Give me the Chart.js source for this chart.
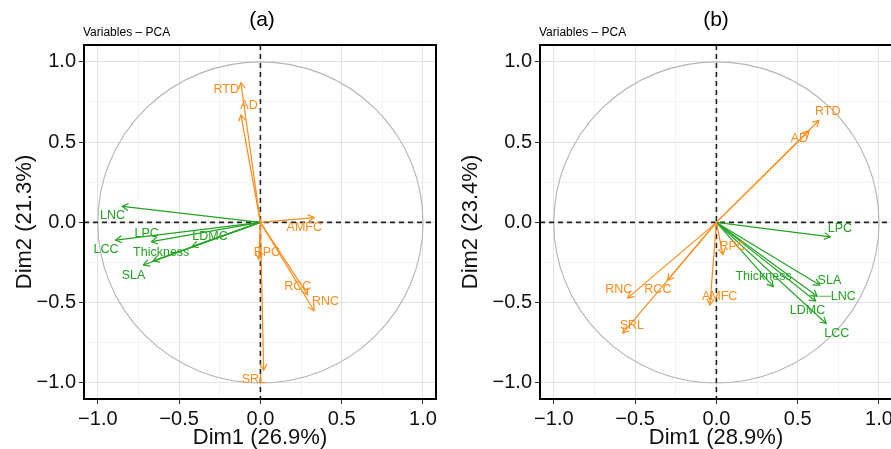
<!DOCTYPE html>
<html>
<head>
<meta charset="utf-8">
<script src="https://cdn.jsdelivr.net/npm/chart.js@4.4.1/dist/chart.umd.min.js"></script>
<style>
  body { margin: 0; background: #fff; overflow: hidden; width: 891px; height: 449px; position: relative; font-family: "Liberation Sans", Arial, sans-serif; }
  canvas { position: absolute; top: 0; }
  .panel { position: absolute; font-size: 21px; color: #000; transform: translateX(-50%); }
  .sub { position: absolute; font-size: 12px; color: #000; }
</style>
</head>
<body>
<canvas id="chartA" width="445" height="449" style="left:0"></canvas>
<canvas id="chartB" width="455" height="449" style="left:446px"></canvas>
<div class="panel" style="left:262px; top:7px">(a)</div>
<div class="panel" style="left:716px; top:7px">(b)</div>
<div class="sub" style="left:83px; top:25px">Variables – PCA</div>
<div class="sub" style="left:539px; top:25px">Variables – PCA</div>
<script>
// variable coordinates
const varsA = ['RTD', 'AD', 'AMFC', 'RPC', 'RCC', 'RNC', 'SRL', 'LNC', 'LCC', 'LPC', 'LDMC', 'Thickness', 'SLA'];
const groupA = ['root', 'root', 'root', 'root', 'root', 'root', 'root', 'leaf', 'leaf', 'leaf', 'leaf', 'leaf', 'leaf'];
const dim1A = [-0.12, -0.12, 0.33, -0.01, 0.29, 0.33, 0.02, -0.85, -0.89, -0.67, -0.42, -0.66, -0.72];
const dim2A = [0.87, 0.67, 0.03, -0.23, -0.45, -0.55, -0.92, 0.10, -0.11, -0.12, -0.15, -0.24, -0.265];
// where each text label sits (data units)
const labXA = [-0.21, -0.07, 0.27, 0.04, 0.23, 0.40, -0.04, -0.91, -0.95, -0.70, -0.31, -0.61, -0.78];
const labYA = [0.83, 0.73, -0.03, -0.19, -0.40, -0.49, -0.98, 0.04, -0.17, -0.07, -0.09, -0.19, -0.33];

const varsB = ['RTD', 'AD', 'RPC', 'AMFC', 'RNC', 'RCC', 'SRL', 'LPC', 'SLA', 'LNC', 'LDMC', 'LCC', 'Thickness'];
const groupB = ['root', 'root', 'root', 'root', 'root', 'root', 'root', 'leaf', 'leaf', 'leaf', 'leaf', 'leaf', 'leaf'];
const dim1B = [0.63, 0.57, 0.04, -0.04, -0.545, -0.30, -0.575, 0.70, 0.635, 0.62, 0.61, 0.675, 0.35];
const dim2B = [0.635, 0.57, -0.20, -0.515, -0.47, -0.36, -0.69, -0.09, -0.39, -0.46, -0.49, -0.63, -0.40];
const labXB = [0.685, 0.51, 0.10, 0.02, -0.60, -0.36, -0.52, 0.76, 0.695, 0.78, 0.56, 0.74, 0.29];
const labYB = [0.69, 0.52, -0.15, -0.46, -0.42, -0.42, -0.64, -0.04, -0.36, -0.46, -0.55, -0.69, -0.34];

const tickVals = [-1, -0.75, -0.5, -0.25, 0, 0.25, 0.5, 0.75, 1];
const colors = { root: '#ff8c1a', leaf: '#22a322' };

const isMajor = v => Math.abs(v * 2 - Math.round(v * 2)) < 1e-6;
const fmt = v => isMajor(v) ? v.toFixed(1).replace('-', '\u2212') : '';

// circle, dashed zero lines, arrowheads, labels, frame
const pcaDecor = {
  id: 'pcaDecor',
  beforeDatasetsDraw(chart) {
    const { ctx, chartArea: a, scales: { x, y } } = chart;
    ctx.save();
    ctx.beginPath();
    ctx.rect(a.left, a.top, a.width, a.height);
    ctx.clip();
    const cx = x.getPixelForValue(0), cy = y.getPixelForValue(0);
    const rx = x.getPixelForValue(1) - cx, ry = cy - y.getPixelForValue(1);
    ctx.strokeStyle = '#b5b5b5';
    ctx.lineWidth = 1.1;
    ctx.beginPath();
    ctx.ellipse(cx, cy, rx, ry, 0, 0, Math.PI * 2);
    ctx.stroke();
    ctx.strokeStyle = '#222';
    ctx.lineWidth = 1.6;
    ctx.setLineDash([5, 4]);
    ctx.beginPath();
    ctx.moveTo(a.left, cy); ctx.lineTo(a.right, cy);
    ctx.moveTo(cx, a.top); ctx.lineTo(cx, a.bottom);
    ctx.stroke();
    ctx.restore();
  },
  afterDatasetsDraw(chart, args, opts) {
    const { ctx, scales: { x, y } } = chart;
    const x0 = x.getPixelForValue(0), y0 = y.getPixelForValue(0);
    ctx.save();
    opts.names.forEach((name, i) => {
      const col = colors[opts.groups[i]];
      const px = x.getPixelForValue(opts.dx[i]), py = y.getPixelForValue(opts.dy[i]);
      const ang = Math.atan2(py - y0, px - x0);
      const len = 7, spread = Math.PI / 6;
      ctx.strokeStyle = col;
      ctx.lineWidth = 1.2;
      ctx.beginPath();
      ctx.moveTo(px - len * Math.cos(ang - spread), py - len * Math.sin(ang - spread));
      ctx.lineTo(px, py);
      ctx.lineTo(px - len * Math.cos(ang + spread), py - len * Math.sin(ang + spread));
      ctx.stroke();
      const lx = x.getPixelForValue(opts.lx[i]), ly = y.getPixelForValue(opts.ly[i]);
      if (opts.connect && opts.connect.includes(name)) {
        ctx.beginPath();
        ctx.lineWidth = 0.8;
        ctx.moveTo(lx - 12, ly);
        ctx.lineTo(px + 2, py);
        ctx.stroke();
      }
      ctx.fillStyle = col;
      ctx.font = '12.5px "Liberation Sans", Arial, sans-serif';
      ctx.textAlign = 'center';
      ctx.textBaseline = 'middle';
      ctx.fillText(name, lx, ly);
    });
    ctx.restore();
  },
  afterDraw(chart) {
    const { ctx, chartArea: a } = chart;
    ctx.save();
    ctx.strokeStyle = '#000';
    ctx.lineWidth = 2;
    ctx.strokeRect(a.left, a.top, a.width, a.height);
    ctx.restore();
  }
};

function axis(title, fitSize, titlePad, isY) {
  return {
    type: 'linear',
    min: isY ? -1.1 : -1.085,
    max: isY ? 1.105 : 1.08,
    afterBuildTicks: s => { s.ticks = tickVals.map(v => ({ value: v })); },
    afterFit: s => { if (isY) s.width = fitSize; else s.height = fitSize; },
    grid: {
      color: c => isMajor(c.tick.value) ? '#e3e3e3' : '#f1f1f1',
      lineWidth: c => isMajor(c.tick.value) ? 1 : 0.8,
      tickColor: c => isMajor(c.tick.value) ? '#333' : 'rgba(0,0,0,0)',
      tickLength: 5,
      drawTicks: true
    },
    border: { display: false },
    ticks: {
      autoSkip: false,
      maxRotation: 0,
      padding: 3,
      color: '#111',
      font: { family: '"Liberation Sans", Arial, sans-serif', size: 20 },
      callback: v => fmt(v)
    },
    title: {
      display: true,
      text: title,
      color: '#111',
      padding: titlePad,
      font: { family: '"Liberation Sans", Arial, sans-serif', size: 22, lineHeight: 1.0 }
    }
  };
}

function makeChart(id, names, groups, dx, dy, lx, ly, xTitle, yTitle, yWidth, connect) {
  const datasets = names.map((n, i) => ({
    label: n,
    data: [{ x: 0, y: 0 }, { x: dx[i], y: dy[i] }],
    showLine: true,
    borderColor: colors[groups[i]],
    borderWidth: 1.2,
    pointRadius: 0
  }));
  return new Chart(document.getElementById(id), {
    type: 'scatter',
    data: { datasets },
    options: {
      responsive: false,
      animation: false,
      layout: { padding: { top: 45, right: 9, left: 0, bottom: 0 } },
      plugins: {
        legend: { display: false },
        tooltip: { enabled: false },
        pcaDecor: { names, groups, dx, dy, lx, ly, connect }
      },
      scales: {
        x: axis(xTitle, 50, { top: 0, bottom: 0 }, false),
        y: axis(yTitle, yWidth, { top: 14, bottom: 0 }, true)
      }
    },
    plugins: [pcaDecor]
  });
}

makeChart('chartA', varsA, groupA, dim1A, dim2A, labXA, labYA, 'Dim1 (26.9%)', 'Dim2 (21.3%)', 84, []);
makeChart('chartB', varsB, groupB, dim1B, dim2B, labXB, labYB, 'Dim1 (28.9%)', 'Dim2 (23.4%)', 94, ['LNC']);
</script>
</body>
</html>
